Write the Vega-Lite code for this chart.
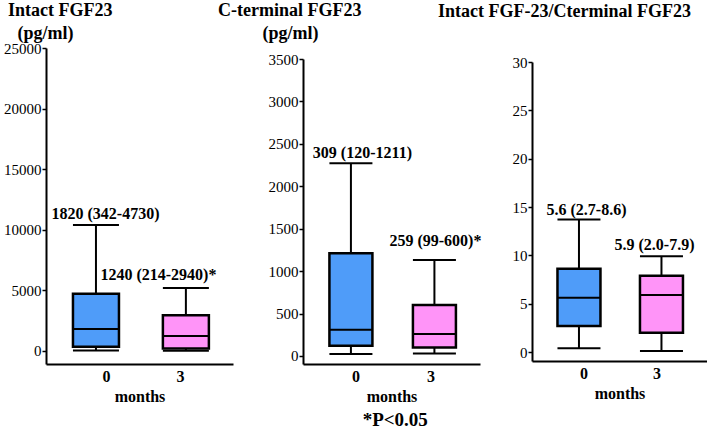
{
  "$schema": "https://vega.github.io/schema/vega-lite/v6.json",
  "padding": {"left": 3, "top": 2, "right": 0, "bottom": 0},
  "datasets": {
    "intact": [
      {"month": 0, "min": 40, "q1": 342, "median": 1820, "q3": 4730, "max": 10400, "label": "1820 (342-4730)"},
      {"month": 3, "min": 20, "q1": 214, "median": 1240, "q3": 2940, "max": 5200, "label": "1240 (214-2940)*"}
    ],
    "cterm": [
      {"month": 0, "min": 25, "q1": 120, "median": 309, "q3": 1211, "max": 2270, "label": "309 (120-1211)"},
      {"month": 3, "min": 30, "q1": 99, "median": 259, "q3": 600, "max": 1130, "label": "259 (99-600)*"}
    ],
    "ratio": [
      {"month": 0, "min": 0.4, "q1": 2.7, "median": 5.6, "q3": 8.6, "max": 13.7, "label": "5.6 (2.7-8.6)"},
      {"month": 3, "min": 0.1, "q1": 2.0, "median": 5.9, "q3": 7.9, "max": 9.9, "label": "5.9 (2.0-7.9)"}
    ]
  },
  "title": {"text": "*P<0.05", "orient": "bottom", "anchor": "middle", "fontSize": 19, "fontWeight": "bold", "color": "black", "dx": 40, "offset": 7},
  "spacing": 52,
  "bounds": "flush",
  "hconcat": [
    {
      "width": 205, "height": 316,
      "data": {"name": "intact"},
      "title": {"text": "Intact FGF23", "anchor": "start", "frame": "group", "dx": -38, "dy": 0, "fontSize": 18, "fontWeight": "bold", "color": "black"},
      "encoding": {
        "x": {"field": "month", "type": "quantitative",
          "scale": {"domain": [-1.5, 4.405], "range": [0, 187], "nice": false, "zero": false},
          "axis": {"values": [0, 3], "format": "d", "ticks": false, "labelFontSize": 16, "labelFontWeight": "bold", "labelPadding": 4, "title": "months", "titleFontSize": 16, "titleFontWeight": "bold", "titlePadding": 4,
            "labelOffset": {"condition": {"test": "datum.value == 0", "value": 10}, "value": -6}}}
      },
      "layer": [
        {"mark": {"type": "rule", "color": "black", "strokeWidth": 2},
         "encoding": {
           "y": {"field": "min", "type": "quantitative",
             "scale": {"domain": [-1073, 25000], "range": [316, 0], "nice": false, "zero": false},
             "axis": {"values": [0, 2500, 5000, 7500, 10000, 12500, 15000, 17500, 20000, 22500, 25000], "format": "d",
               "labelExpr": "datum.value % 5000 == 0 ? datum.label : ''",
               "tickSize": {"condition": {"test": "datum.value % 5000 != 0", "value": 2}, "value": 4},
               "title": "(pg/ml)", "titleAngle": 0, "titleX": -1, "titleY": -15, "titleAlign": "center", "titleBaseline": "middle", "titleFontSize": 18, "titleFontWeight": "bold"}},
           "y2": {"field": "max"}}},
        {"mark": {"type": "bar", "width": 46, "stroke": "black", "strokeWidth": 2.5},
         "encoding": {"y": {"field": "q1", "type": "quantitative"}, "y2": {"field": "q3"},
           "color": {"field": "month", "type": "nominal", "scale": {"domain": [0, 3], "range": ["#4f9cf9", "#ff94f8"]}, "legend": null}}},
        {"mark": {"type": "tick", "orient": "horizontal", "size": 46, "thickness": 2, "color": "black", "opacity": 1},
         "encoding": {"y": {"field": "median", "type": "quantitative"}}},
        {"mark": {"type": "tick", "orient": "horizontal", "size": 46, "thickness": 2, "color": "black", "opacity": 1},
         "encoding": {"y": {"field": "min", "type": "quantitative"}}},
        {"mark": {"type": "tick", "orient": "horizontal", "size": 46, "thickness": 2, "color": "black", "opacity": 1},
         "encoding": {"y": {"field": "max", "type": "quantitative"}}},
        {"transform": [{"filter": "datum.month == 0"}],
         "mark": {"type": "text", "fontSize": 16, "fontWeight": "bold", "color": "black", "align": "center", "baseline": "middle", "dx": 9.5, "dy": -11},
         "encoding": {"y": {"field": "max", "type": "quantitative"}, "text": {"field": "label"}}},
        {"transform": [{"filter": "datum.month == 3"}],
         "mark": {"type": "text", "fontSize": 16, "fontWeight": "bold", "color": "black", "align": "center", "baseline": "middle", "dx": -27.5, "dy": -13},
         "encoding": {"y": {"field": "max", "type": "quantitative"}, "text": {"field": "label"}}}
      ]
    },
    {
      "width": 177, "height": 316,
      "data": {"name": "cterm"},
      "title": {"text": "C-terminal FGF23", "anchor": "start", "frame": "group", "dx": -85, "dy": 0, "fontSize": 18, "fontWeight": "bold", "color": "black"},
      "encoding": {
        "x": {"field": "month", "type": "quantitative",
          "scale": {"domain": [-1.542, 4.458], "range": [0, 177], "nice": false, "zero": false},
          "axis": {"values": [0, 3], "format": "d", "ticks": false, "labelFontSize": 16, "labelFontWeight": "bold", "labelPadding": 4, "title": "months", "titleFontSize": 16, "titleFontWeight": "bold", "titlePadding": 4,
            "labelOffset": {"condition": {"test": "datum.value == 0", "value": 4.5}, "value": -4}}}
      },
      "layer": [
        {"mark": {"type": "rule", "color": "black", "strokeWidth": 2},
         "encoding": {
           "y": {"field": "min", "type": "quantitative",
             "scale": {"domain": [-94.3, 3500], "range": [316, 11], "nice": false, "zero": false},
             "axis": {"values": [0, 250, 500, 750, 1000, 1250, 1500, 1750, 2000, 2250, 2500, 2750, 3000, 3250, 3500], "format": "d",
               "labelExpr": "datum.value % 500 == 0 ? datum.label : ''",
               "tickSize": {"condition": {"test": "datum.value % 500 != 0", "value": 2}, "value": 4},
               "title": "(pg/ml)", "titleAngle": 0, "titleX": -13, "titleY": -15, "titleAlign": "center", "titleBaseline": "middle", "titleFontSize": 18, "titleFontWeight": "bold"}},
           "y2": {"field": "max"}}},
        {"mark": {"type": "bar", "width": 43, "stroke": "black", "strokeWidth": 2.5},
         "encoding": {"y": {"field": "q1", "type": "quantitative"}, "y2": {"field": "q3"},
           "color": {"field": "month", "type": "nominal", "scale": {"domain": [0, 3], "range": ["#4f9cf9", "#ff94f8"]}, "legend": null}}},
        {"mark": {"type": "tick", "orient": "horizontal", "size": 43, "thickness": 2, "color": "black", "opacity": 1},
         "encoding": {"y": {"field": "median", "type": "quantitative"}}},
        {"mark": {"type": "tick", "orient": "horizontal", "size": 43, "thickness": 2, "color": "black", "opacity": 1},
         "encoding": {"y": {"field": "min", "type": "quantitative"}}},
        {"mark": {"type": "tick", "orient": "horizontal", "size": 43, "thickness": 2, "color": "black", "opacity": 1},
         "encoding": {"y": {"field": "max", "type": "quantitative"}}},
        {"transform": [{"filter": "datum.month == 0"}],
         "mark": {"type": "text", "fontSize": 16, "fontWeight": "bold", "color": "black", "align": "center", "baseline": "middle", "dx": 11.5, "dy": -10},
         "encoding": {"y": {"field": "max", "type": "quantitative"}, "text": {"field": "label"}}},
        {"transform": [{"filter": "datum.month == 3"}],
         "mark": {"type": "text", "fontSize": 16, "fontWeight": "bold", "color": "black", "align": "center", "baseline": "middle", "dx": 1, "dy": -19},
         "encoding": {"y": {"field": "max", "type": "quantitative"}, "text": {"field": "label"}}}
      ]
    },
    {
      "width": 175, "height": 316,
      "data": {"name": "ratio"},
      "title": {"text": "Intact FGF-23/Cterminal FGF23", "anchor": "start", "frame": "group", "dx": -94, "dy": -23, "fontSize": 18, "fontWeight": "bold", "color": "black"},
      "encoding": {
        "x": {"field": "month", "type": "quantitative",
          "scale": {"domain": [-1.526, 4.474], "range": [0, 175], "nice": false, "zero": false},
          "axis": {"values": [0, 3], "format": "d", "ticks": false, "offset": -3, "labelFontSize": 16, "labelFontWeight": "bold", "labelPadding": 4, "title": "months", "titleFontSize": 16, "titleFontWeight": "bold", "titlePadding": 4,
            "labelOffset": {"condition": {"test": "datum.value == 0", "value": 4.5}, "value": -5}}}
      },
      "layer": [
        {"mark": {"type": "rule", "color": "black", "strokeWidth": 2},
         "encoding": {
           "y": {"field": "min", "type": "quantitative",
             "scale": {"domain": [-0.931, 30], "range": [313, 14], "nice": false, "zero": false},
             "axis": {"values": [0, 5, 10, 15, 20, 25, 30], "format": "d", "tickSize": 4, "title": null}},
           "y2": {"field": "max"}}},
        {"mark": {"type": "bar", "width": 43, "stroke": "black", "strokeWidth": 2.5},
         "encoding": {"y": {"field": "q1", "type": "quantitative"}, "y2": {"field": "q3"},
           "color": {"field": "month", "type": "nominal", "scale": {"domain": [0, 3], "range": ["#4f9cf9", "#ff94f8"]}, "legend": null}}},
        {"mark": {"type": "tick", "orient": "horizontal", "size": 43, "thickness": 2, "color": "black", "opacity": 1},
         "encoding": {"y": {"field": "median", "type": "quantitative"}}},
        {"mark": {"type": "tick", "orient": "horizontal", "size": 43, "thickness": 2, "color": "black", "opacity": 1},
         "encoding": {"y": {"field": "min", "type": "quantitative"}}},
        {"mark": {"type": "tick", "orient": "horizontal", "size": 43, "thickness": 2, "color": "black", "opacity": 1},
         "encoding": {"y": {"field": "max", "type": "quantitative"}}},
        {"transform": [{"filter": "datum.month == 0"}],
         "mark": {"type": "text", "fontSize": 16, "fontWeight": "bold", "color": "black", "align": "center", "baseline": "middle", "dx": 7.5, "dy": -10},
         "encoding": {"y": {"field": "max", "type": "quantitative"}, "text": {"field": "label"}}},
        {"transform": [{"filter": "datum.month == 3"}],
         "mark": {"type": "text", "fontSize": 16, "fontWeight": "bold", "color": "black", "align": "center", "baseline": "middle", "dx": -7, "dy": -11},
         "encoding": {"y": {"field": "max", "type": "quantitative"}, "text": {"field": "label"}}}
      ]
    }
  ],
  "resolve": {"scale": {"color": "independent"}},
  "config": {
    "font": "'Liberation Serif', 'Times New Roman', serif",
    "text": {"font": "'Liberation Serif', 'Times New Roman', serif"},
    "view": {"stroke": null},
    "background": "white",
    "axis": {"grid": false, "domainColor": "black", "domainWidth": 2, "tickColor": "black", "tickWidth": 1.5, "labelColor": "black", "labelFont": "'Liberation Serif', 'Times New Roman', serif", "labelFontSize": 15, "labelPadding": 1, "labelFlush": false, "labelOverlap": false, "labelBound": false, "titleColor": "black", "titleFont": "'Liberation Serif', 'Times New Roman', serif"},
    "axisX": {"labelFontSize": 16},
    "title": {"font": "'Liberation Serif', 'Times New Roman', serif"}
  }
}
